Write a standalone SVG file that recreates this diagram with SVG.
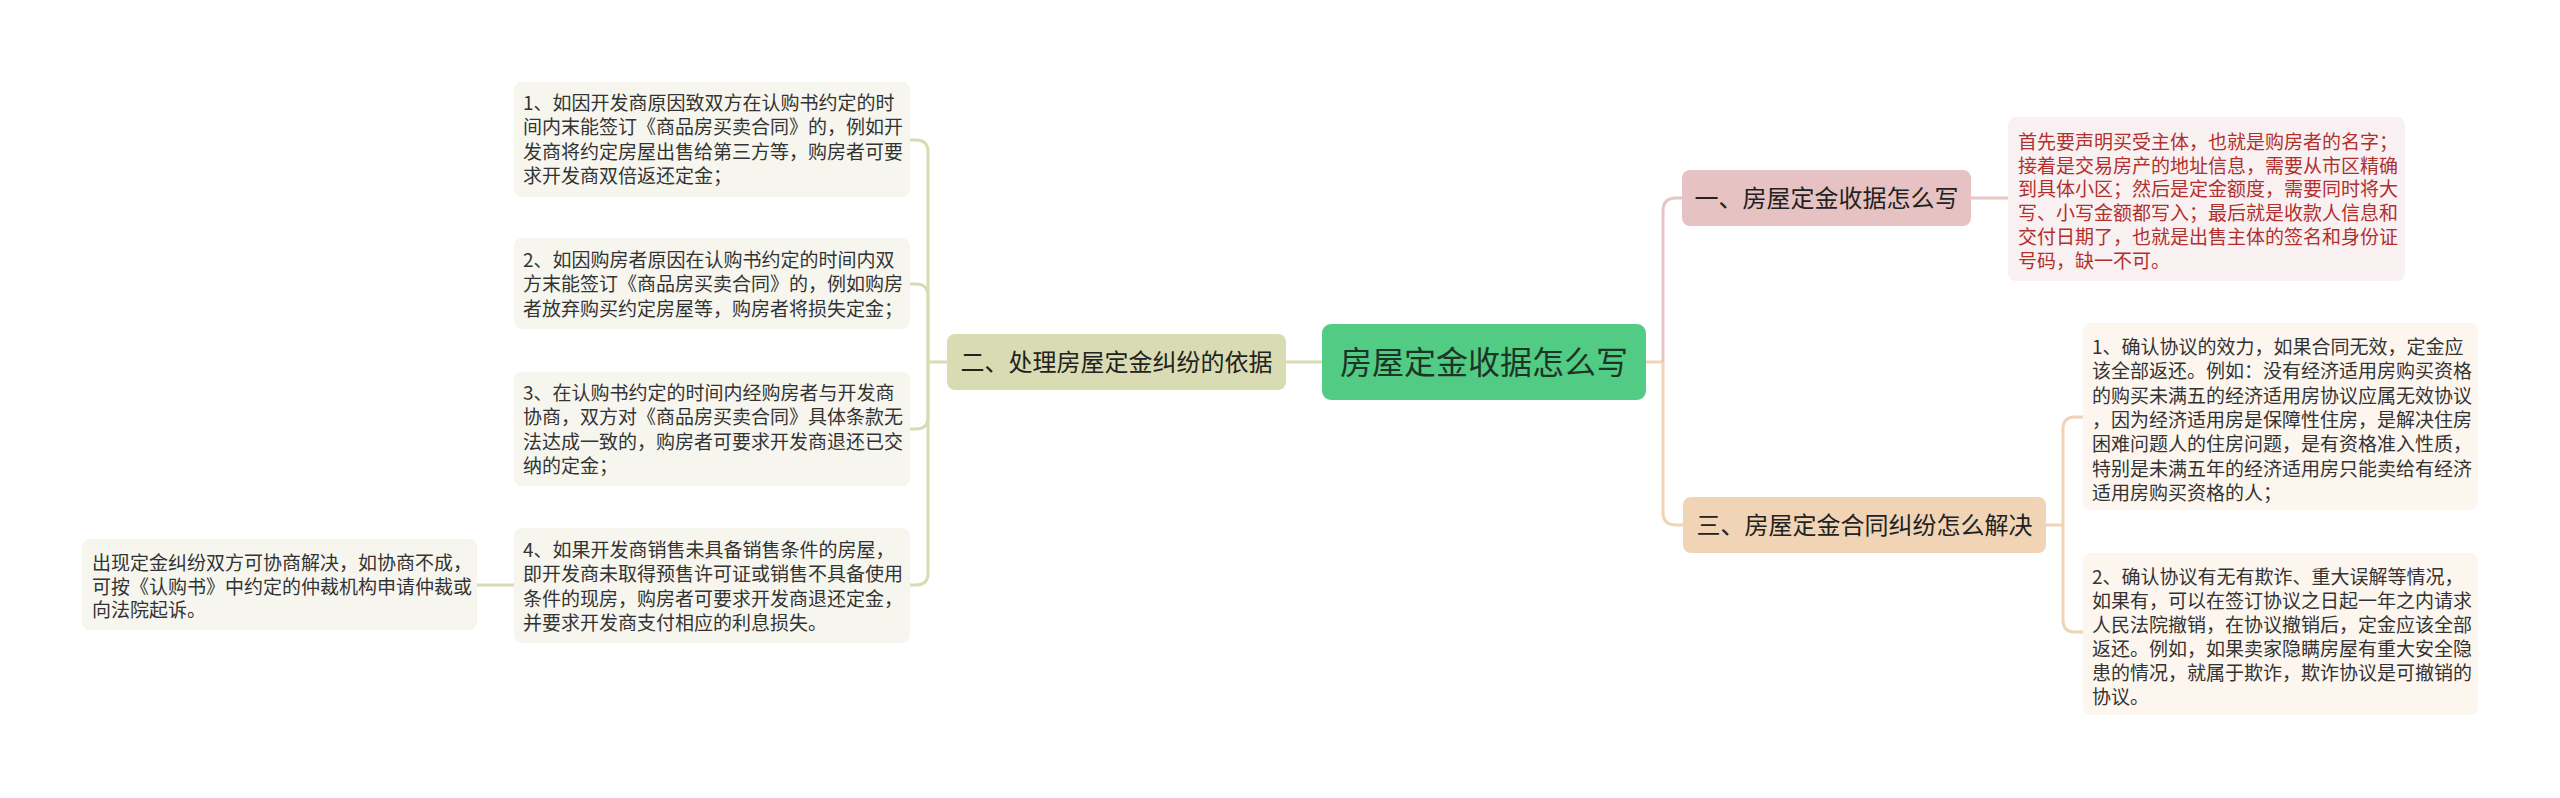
<svg xmlns="http://www.w3.org/2000/svg" width="2560" height="798" viewBox="0 0 2560 798">
<style>
text{font-family:"Noto Sans CJK SC","Noto Sans",sans-serif;}
.leaf{font-size:19px;fill:#333333;}
.red{font-size:19px;fill:#b1302e;}
.mid{font-size:24px;fill:#222222;text-anchor:middle;}
.root{font-size:32px;fill:#1c3526;text-anchor:middle;}
.c-ol{fill:none;stroke:#d9dcb2;stroke-width:3;}
.c-pk{fill:none;stroke:#e8c5c5;stroke-width:3;}
.c-tn{fill:none;stroke:#efd4b5;stroke-width:3;}
</style>
<rect width="2560" height="798" fill="#ffffff"/>
<g id="connectors">
<path class="c-ol" d="M928 362 H947"/>
<path class="c-ol" d="M910 140 H916 Q928 140 928 152 V362"/>
<path class="c-ol" d="M910 284 H916 Q928 284 928 296 V362"/>
<path class="c-ol" d="M910 429 H916 Q928 429 928 417 V362"/>
<path class="c-ol" d="M910 585 H916 Q928 585 928 573 V362"/>
<path class="c-ol" d="M1286 362 H1322"/>
<path class="c-ol" d="M477 585 H514"/>
<path class="c-tn" d="M1646 362 H1663"/>
<path class="c-pk" d="M1663 362 V211 Q1663 198 1676 198 H1682"/>
<path class="c-tn" d="M1663 362 V512 Q1663 525 1676 525 H1683"/>
<path class="c-pk" d="M1971 198 H2008"/>
<path class="c-tn" d="M2046 525 H2063"/>
<path class="c-tn" d="M2063 525 V429 Q2063 417 2075 417 H2083"/>
<path class="c-tn" d="M2063 525 V620 Q2063 632 2075 632 H2083"/>
</g>
<g id="root">
<rect x="1322" y="324" width="324" height="76" rx="9" fill="#52cc84"/>
<text class="root" x="1484" y="374">房屋定金收据怎么写</text>
</g>
<g id="branch2">
<rect x="947" y="334" width="339" height="56" rx="8" fill="#d9dcb2"/>
<text class="mid" x="1116.5" y="371">二、处理房屋定金纠纷的依据</text>
</g>
<g id="leaf2-1">
<rect x="514" y="82" width="396" height="115" rx="8" fill="#f6f6ee"/>
<text class="leaf" x="523" y="110"><tspan x="523">1、如因开发商原因致双方在认购书约定的时</tspan><tspan x="523" dy="24.3">间内末能签订《商品房买卖合同》的，例如开</tspan><tspan x="523" dy="24.3">发商将约定房屋出售给第三方等，购房者可要</tspan><tspan x="523" dy="24.3">求开发商双倍返还定金；</tspan></text>
</g>
<g id="leaf2-2">
<rect x="514" y="238" width="396" height="91" rx="8" fill="#f6f6ee"/>
<text class="leaf" x="523" y="267"><tspan x="523">2、如因购房者原因在认购书约定的时间内双</tspan><tspan x="523" dy="24.3">方末能签订《商品房买卖合同》的，例如购房</tspan><tspan x="523" dy="24.3">者放弃购买约定房屋等，购房者将损失定金；</tspan></text>
</g>
<g id="leaf2-3">
<rect x="514" y="372" width="396" height="114" rx="8" fill="#f6f6ee"/>
<text class="leaf" x="523" y="400"><tspan x="523">3、在认购书约定的时间内经购房者与开发商</tspan><tspan x="523" dy="24.3">协商，双方对《商品房买卖合同》具体条款无</tspan><tspan x="523" dy="24.3">法达成一致的，购房者可要求开发商退还已交</tspan><tspan x="523" dy="24.3">纳的定金；</tspan></text>
</g>
<g id="leaf2-4">
<rect x="514" y="528" width="396" height="115" rx="8" fill="#f6f6ee"/>
<text class="leaf" x="523" y="557"><tspan x="523">4、如果开发商销售未具备销售条件的房屋，</tspan><tspan x="523" dy="24.3">即开发商未取得预售许可证或销售不具备使用</tspan><tspan x="523" dy="24.3">条件的现房，购房者可要求开发商退还定金，</tspan><tspan x="523" dy="24.3">并要求开发商支付相应的利息损失。</tspan></text>
</g>
<g id="leaf2-4-1">
<rect x="82" y="539" width="395" height="91" rx="8" fill="#f6f6ee"/>
<text class="leaf" x="92" y="570"><tspan x="92">出现定金纠纷双方可协商解决，如协商不成，</tspan><tspan x="92" dy="23.7">可按《认购书》中约定的仲裁机构申请仲裁或</tspan><tspan x="92" dy="23.7">向法院起诉。</tspan></text>
</g>
<g id="branch1">
<rect x="1682" y="170" width="289" height="56" rx="8" fill="#e6c2c2"/>
<text class="mid" x="1826.5" y="207">一、房屋定金收据怎么写</text>
</g>
<g id="leaf1-1">
<rect x="2008" y="117" width="397" height="164" rx="8" fill="#f9f1f1"/>
<text class="red" x="2018" y="149"><tspan x="2018">首先要声明买受主体，也就是购房者的名字；</tspan><tspan x="2018" dy="23.7">接着是交易房产的地址信息，需要从市区精确</tspan><tspan x="2018" dy="23.7">到具体小区；然后是定金额度，需要同时将大</tspan><tspan x="2018" dy="23.7">写、小写金额都写入；最后就是收款人信息和</tspan><tspan x="2018" dy="23.7">交付日期了，也就是出售主体的签名和身份证</tspan><tspan x="2018" dy="23.7">号码，缺一不可。</tspan></text>
</g>
<g id="branch3">
<rect x="1683" y="497" width="363" height="56" rx="8" fill="#f0d4b5"/>
<text class="mid" x="1864.5" y="534">三、房屋定金合同纠纷怎么解决</text>
</g>
<g id="leaf3-1">
<rect x="2083" y="323" width="395" height="187" rx="8" fill="#fcf6ef"/>
<text class="leaf" x="2092" y="354"><tspan x="2092">1、确认协议的效力，如果合同无效，定金应</tspan><tspan x="2092" dy="24.3">该全部返还。例如：没有经济适用房购买资格</tspan><tspan x="2092" dy="24.3">的购买未满五的经济适用房协议应属无效协议</tspan><tspan x="2092" dy="24.3">，因为经济适用房是保障性住房，是解决住房</tspan><tspan x="2092" dy="24.3">困难问题人的住房问题，是有资格准入性质，</tspan><tspan x="2092" dy="24.3">特别是未满五年的经济适用房只能卖给有经济</tspan><tspan x="2092" dy="24.3">适用房购买资格的人；</tspan></text>
</g>
<g id="leaf3-2">
<rect x="2083" y="553" width="395" height="162" rx="8" fill="#fcf6ef"/>
<text class="leaf" x="2092" y="584"><tspan x="2092">2、确认协议有无有欺诈、重大误解等情况，</tspan><tspan x="2092" dy="24">如果有，可以在签订协议之日起一年之内请求</tspan><tspan x="2092" dy="24">人民法院撤销，在协议撤销后，定金应该全部</tspan><tspan x="2092" dy="24">返还。例如，如果卖家隐瞒房屋有重大安全隐</tspan><tspan x="2092" dy="24">患的情况，就属于欺诈，欺诈协议是可撤销的</tspan><tspan x="2092" dy="24">协议。</tspan></text>
</g>
</svg>
